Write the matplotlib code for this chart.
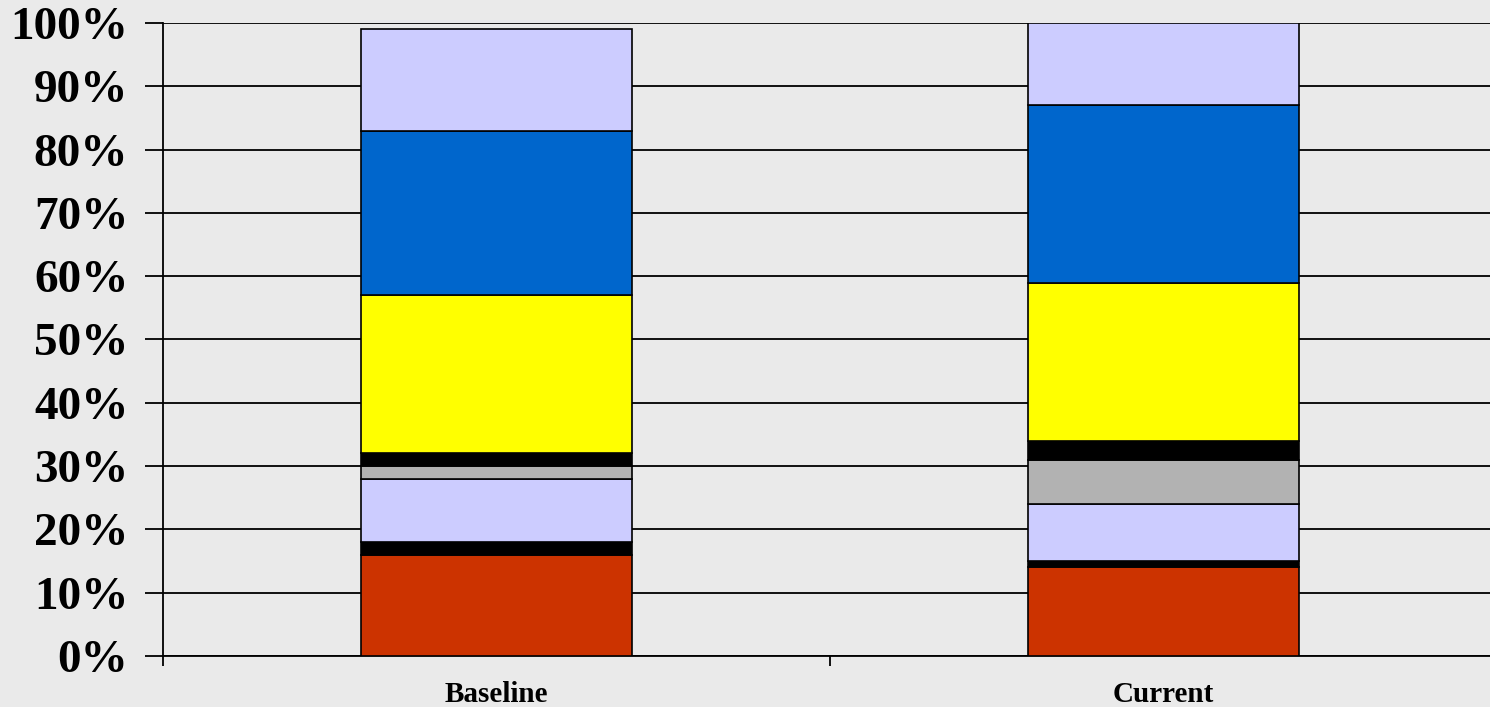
import matplotlib.pyplot as plt
import numpy as np

plt.rcParams.update({
    "font.family": ["Liberation Serif", "DejaVu Serif"],
    "font.weight": "bold",
})

categories = ["Baseline", "Current"]
# segments stacked bottom to top, percent
seg_values = [
    [16, 14],
    [2, 1],
    [10, 9],
    [2, 7],
    [2, 3],
    [25, 25],
    [26, 28],
    [16, 13],
]
seg_colors = ["#CC3300", "#000000", "#CCCCFF", "#B2B2B2",
              "#000000", "#FFFF00", "#0066CC", "#CCCCFF"]
y_ticks = [0, 10, 20, 30, 40, 50, 60, 70, 80, 90, 100]

fig = plt.figure(figsize=(14.9, 7.07), dpi=100, facecolor="#EAEAEA")
# axes runs slightly past the right edge of the figure, as in the original
ax = fig.add_axes([163 / 1490, 51 / 707, 1334 / 1490, 633 / 707])
ax.set_facecolor("#EAEAEA")

x = np.arange(len(categories)) + 0.5
bottom = np.zeros(len(categories))
for vals, col in zip(seg_values, seg_colors):
    ax.bar(x, vals, width=0.405, bottom=bottom, color=col,
           edgecolor="black", linewidth=1.2, zorder=3)
    bottom += np.array(vals)

ax.set_ylim(0, 100)
ax.set_xlim(0, 2)
ax.set_yticks(y_ticks)
ax.set_yticklabels([f"{t}%" for t in y_ticks], fontsize=34, fontweight="bold")
ax.yaxis.grid(True, color="black", linewidth=1.3, zorder=0)
ax.tick_params(axis="y", length=13, width=1.3, pad=12)

ax.set_xticks([0, 1, 2])
ax.set_xticklabels([])
ax.set_xticks(x, minor=True)
ax.set_xticklabels(categories, minor=True, fontsize=21, fontweight="bold")
ax.tick_params(axis="x", which="major", length=7, width=1.3)
ax.tick_params(axis="x", which="minor", length=0, pad=18)

for s in ["top", "right"]:
    ax.spines[s].set_visible(False)
ax.spines["left"].set_linewidth(1.3)
ax.spines["bottom"].set_linewidth(1.3)

fig.savefig("out.png", dpi=100, facecolor="#EAEAEA")
